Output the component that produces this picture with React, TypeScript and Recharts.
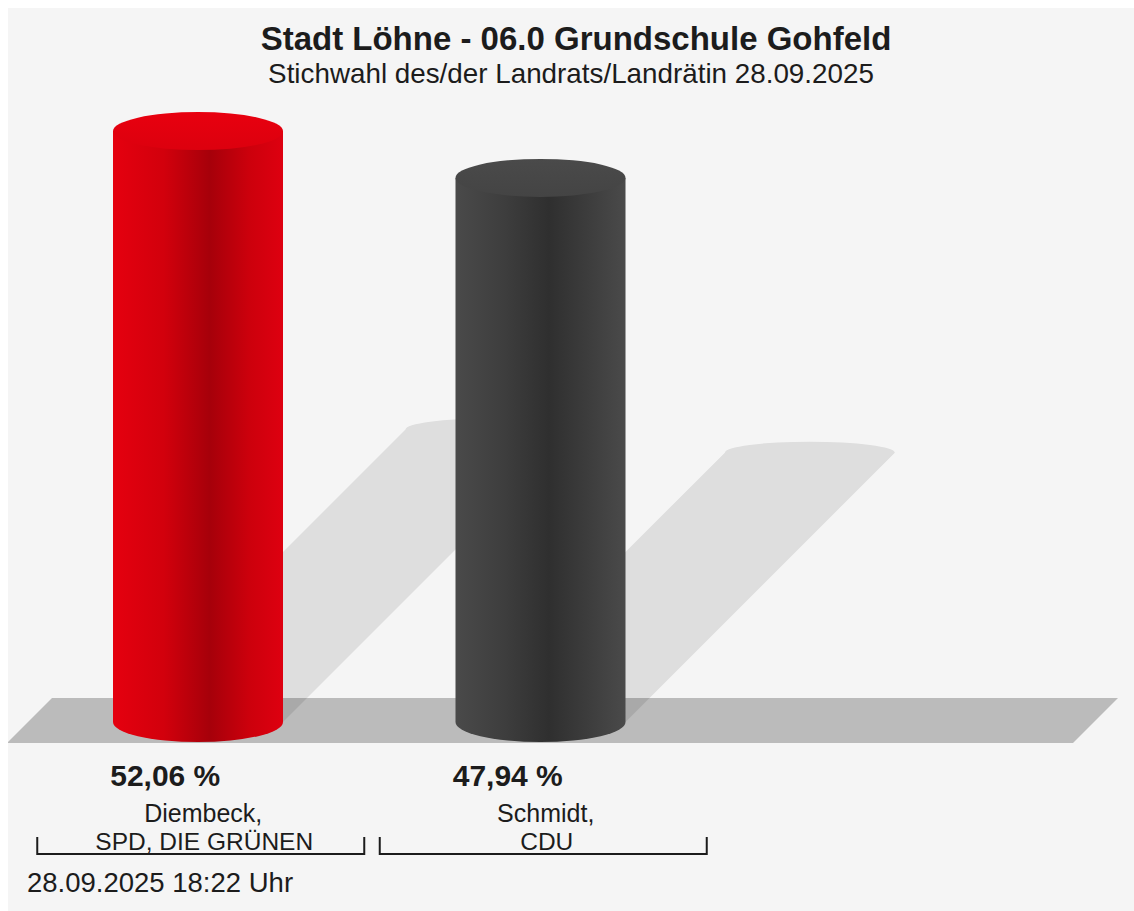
import { BarChart, Bar, XAxis, YAxis } from 'recharts';

const candidates = ['Diembeck,', 'Schmidt,'];
const parties = ['SPD, DIE GRÜNEN', 'CDU'];
const shares = [52.06, 47.94];
const shareLabels = ['52,06 %', '47,94 %'];

const TITLE = 'Stadt Löhne - 06.0 Grundschule Gohfeld';
const SUBTITLE = 'Stichwahl des/der Landrats/Landrätin 28.09.2025';
const STAMP = '28.09.2025 18:22 Uhr';

const W = 1126;
const H = 903;
const FONT = '"Liberation Sans", Arial, Helvetica, sans-serif';
const INK = '#1c1c1c';

// gradient ids per bar
const fills = [
  { body: 'url(#redBody)', top: 'url(#redTop)' },
  { body: 'url(#greyBody)', top: 'url(#greyTop)' },
];

const data = candidates.map((name, i) => ({ name, value: shares[i] }));

const RY = 20;

function Cylinder(props: any) {
  const { x, y, width, height, index } = props;
  const left = x - 2;
  const right = left + width;
  const cx = (left + right) / 2;
  const rx = width / 2;
  const base = y + height;
  const d = height * 0.495;
  const f = fills[index];
  return (
    <g>
      {index === 0 && (
        <polygon
          points={`44,${base - 24} ${W - 16},${base - 24} ${W - 61},${base + 21} -1,${base + 21}`}
          fill="#bbbbbb"
        />
      )}
      <path
        d={`M${left},${base} L${left + d},${base - d} A${rx} 11 0 0 1 ${right + d},${base - d} L${right},${base} Z`}
        fill="rgba(0,0,0,0.095)"
      />
      <path
        d={`M${left},${y} L${left},${base} A${rx} ${RY} 0 0 0 ${right},${base} L${right},${y} Z`}
        fill={f.body}
      />
      <ellipse cx={cx} cy={y} rx={rx} ry={RY - 1} fill={f.top} />
    </g>
  );
}

function CategoryTick(props: any) {
  const { x, y, payload } = props;
  const i = payload.index;
  return (
    <g fontFamily={FONT} fill={INK}>
      <text x={x - 35} y={y + 64} textAnchor="middle" fontSize={30} fontWeight="bold">
        {shareLabels[i]}
      </text>
      <text x={x + 3} y={y + 100} textAnchor="middle" fontSize={25}>
        {candidates[i]}
      </text>
      <text x={x + 4} y={y + 128} textAnchor="middle" fontSize={24.5}>
        {parties[i]}
      </text>
      <path
        d={`M${x - 163},${y + 115} L${x - 163},${y + 132} L${x + 164},${y + 132} L${x + 164},${y + 115}`}
        fill="none"
        stroke={INK}
        strokeWidth={2}
      />
    </g>
  );
}

export default function App() {
  return (
    <div
      style={{
        position: 'absolute',
        left: 8,
        top: 8,
        width: W,
        height: H,
        background: '#f5f5f5',
        overflow: 'hidden',
        fontFamily: FONT,
        color: INK,
      }}
    >
      <div style={{ position: 'absolute', top: 14, left: 5, width: W, textAlign: 'center', fontSize: 33, fontWeight: 'bold', lineHeight: '33px' }}>
        {TITLE}
      </div>
      <div style={{ position: 'absolute', top: 52, left: 0, width: W, textAlign: 'center', fontSize: 27.8, lineHeight: '28px' }}>
        {SUBTITLE}
      </div>
      <BarChart width={W} height={H} data={data} margin={{ top: 33, right: 420, bottom: 39, left: 21 }} barSize={170}>
        <defs>
          <linearGradient id="redBody" x1="0" y1="0" x2="1" y2="0">
            <stop offset="0%" stopColor="#e5000f" />
            <stop offset="30%" stopColor="#d2000c" />
            <stop offset="57%" stopColor="#a6000a" />
            <stop offset="80%" stopColor="#cc000c" />
            <stop offset="100%" stopColor="#de0010" />
          </linearGradient>
          <linearGradient id="redTop" x1="0" y1="0" x2="0" y2="1">
            <stop offset="0%" stopColor="#e8000f" />
            <stop offset="100%" stopColor="#dc000e" />
          </linearGradient>
          <linearGradient id="greyBody" x1="0" y1="0" x2="1" y2="0">
            <stop offset="0%" stopColor="#4a4a4a" />
            <stop offset="30%" stopColor="#3d3d3d" />
            <stop offset="55%" stopColor="#2f2f2f" />
            <stop offset="80%" stopColor="#3e3e3e" />
            <stop offset="100%" stopColor="#4a4a4a" />
          </linearGradient>
          <linearGradient id="greyTop" x1="0" y1="0" x2="0" y2="1">
            <stop offset="0%" stopColor="#4a4a4a" />
            <stop offset="100%" stopColor="#444444" />
          </linearGradient>
        </defs>
        <YAxis hide domain={[0, 60]} />
        <XAxis
          dataKey="name"
          height={150}
          interval={0}
          axisLine={false}
          tickLine={false}
          tickSize={0}
          tickMargin={0}
          tick={<CategoryTick />}
        />
        <Bar dataKey="value" isAnimationActive={false} shape={<Cylinder />} />
      </BarChart>
      <div style={{ position: 'absolute', left: 19, top: 861, fontSize: 27.5, lineHeight: '27px' }}>{STAMP}</div>
    </div>
  );
}
